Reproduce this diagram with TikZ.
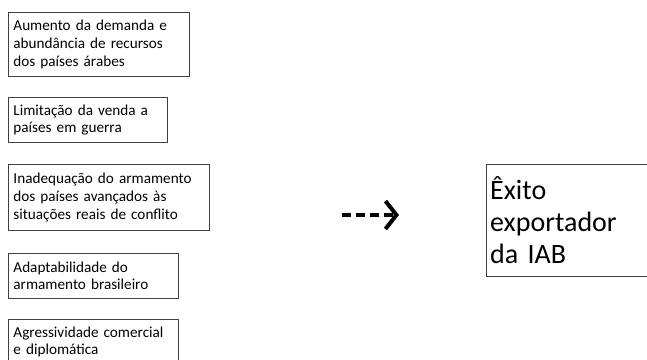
\documentclass[tikz,border=0pt]{standalone}
\usepackage{fontspec}
\setmainfont{Carlito}
\usetikzlibrary{arrows.meta}
\begin{document}
\begin{tikzpicture}[x=1pt,y=-1pt,
  factor/.style={draw=black!75, line width=0.9pt, anchor=north west, inner xsep=5pt, inner ysep=0pt,
    align=left, font=\fontsize{15.2}{17.6}\selectfont},
  result/.style={anchor=north west, inner xsep=4pt, inner ysep=0pt,
    align=left, font=\fontsize{28}{32}\selectfont},
  frame/.style={draw=black!75, line width=0.9pt},
  flow/.style={line width=4.5pt, dash pattern=on 9pt off 5pt,
    -{Straight Barb[length=11pt,width=28pt,line width=4pt]}}]
\useasboundingbox (0,0) rectangle (647,359);
\node[factor, text width=171pt, minimum height=64pt] (f1) at (8,12)
  {Aumento da demanda e\\abundância de recursos\\dos países árabes};
\node[factor, text width=149pt, minimum height=45pt] (f2) at (8,97)
  {Limitação da venda a\\países em guerra};
\node[factor, text width=191pt, minimum height=66pt] (f3) at (8,164)
  {Inadequação do armamento\\dos países avançados às\\situações reais de conflito};
\node[factor, text width=160pt, minimum height=45pt] (f4) at (8,253)
  {Adaptabilidade do\\armamento brasileiro};
\node[factor, text width=160pt, minimum height=45pt] (f5) at (8,319)
  {Agressividade comercial\\e diplomática};
\node[result, text width=200pt, minimum height=112pt] (r) at (486,164)
  {Êxito\\exportador\\da IAB};
\draw[frame] (r.north east) -- (r.north west) -- (r.south west) -- (r.south east);
\coordinate (a1) at (342,215);
\coordinate (a2) at (399,215);
\draw[flow] (a1) -- (a2);
\end{tikzpicture}
\end{document}
